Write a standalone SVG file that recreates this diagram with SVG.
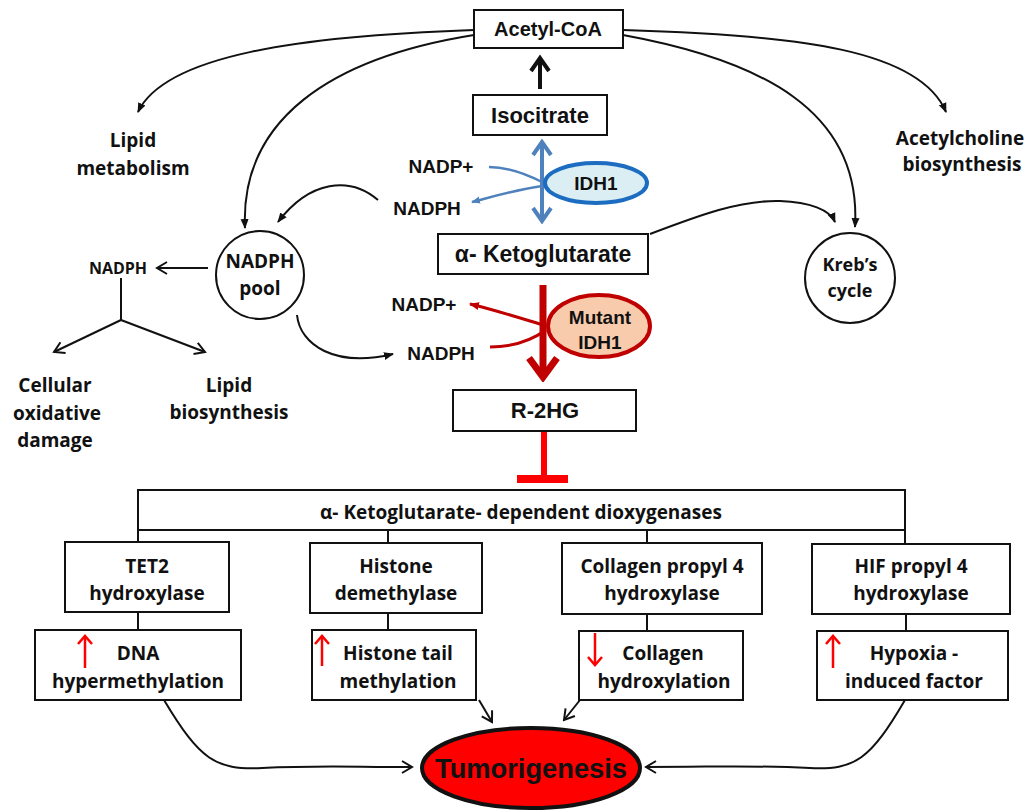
<svg xmlns="http://www.w3.org/2000/svg" width="1028" height="811" viewBox="0 0 1028 811">
<style>
.box{fill:#fff;stroke:#111;stroke-width:2}
.ar{font-family:"Liberation Sans",Arial,sans-serif;font-weight:bold;fill:#111;text-anchor:middle}
.ca{font-family:"Open Sans",Lato,sans-serif;font-weight:bold;fill:#111;text-anchor:middle}
.ln{fill:none;stroke:#111;stroke-width:2}
.bl{fill:none;stroke:#4f81bd;stroke-width:2.5}
.rd{fill:none;stroke:#c00000;stroke-width:3}
.up{fill:none;stroke:#ff0000;stroke-width:2.5}
</style>
<defs>
<marker id="tri" viewBox="0 0 10 10" refX="9" refY="5" markerWidth="10" markerHeight="10" markerUnits="userSpaceOnUse" orient="auto"><path d="M0,1 L10,5 L0,9 z" fill="#111"/></marker>
<marker id="chev" viewBox="0 0 14 14" refX="12" refY="7" markerWidth="14" markerHeight="14" markerUnits="userSpaceOnUse" orient="auto"><path d="M2,1 L12,7 L2,13" fill="none" stroke="#111" stroke-width="2"/></marker>
<marker id="chevK" viewBox="0 0 20 24" refX="16" refY="12" markerWidth="20" markerHeight="24" markerUnits="userSpaceOnUse" orient="auto"><path d="M3,3 L16,12 L3,21" fill="none" stroke="#111" stroke-width="4"/></marker>
<marker id="chevB" viewBox="0 0 18 22" refX="15" refY="11" markerWidth="18" markerHeight="22" markerUnits="userSpaceOnUse" orient="auto-start-reverse"><path d="M2,2 L15,11 L2,20" fill="none" stroke="#4f81bd" stroke-width="4"/></marker>
<marker id="triB" viewBox="0 0 10 10" refX="9" refY="5" markerWidth="9" markerHeight="9" markerUnits="userSpaceOnUse" orient="auto"><path d="M0,1 L10,5 L0,9 z" fill="#4f81bd"/></marker>
<marker id="chevR" viewBox="0 0 28 34" refX="23" refY="17" markerWidth="28" markerHeight="34" markerUnits="userSpaceOnUse" orient="auto"><path d="M4,3 L23,17 L4,31" fill="none" stroke="#c00000" stroke-width="7"/></marker>
<marker id="triR" viewBox="0 0 10 10" refX="9" refY="5" markerWidth="10" markerHeight="10" markerUnits="userSpaceOnUse" orient="auto"><path d="M0,1 L10,5 L0,9 z" fill="#c00000"/></marker>
<marker id="up" viewBox="0 0 12 16" refX="10" refY="8" markerWidth="12" markerHeight="16" markerUnits="userSpaceOnUse" orient="auto"><path d="M2,1 L10,8 L2,15" fill="none" stroke="#ff0000" stroke-width="2.5"/></marker>
</defs>

<g id="connectors">
<path class="ln" d="M474,30 C 300,36 165,55 138,112" marker-end="url(#tri)"/>
<path class="ln" d="M474,35 C 330,58 240,120 245,228" marker-end="url(#tri)"/>
<path class="ln" d="M623,30 C 800,35 920,50 946,112" marker-end="url(#tri)"/>
<path class="ln" d="M623,35 C 760,60 862,110 855,227" marker-end="url(#tri)"/>
<line x1="540" y1="89" x2="540" y2="58" stroke="#111" stroke-width="4" marker-end="url(#chevK)"/>
<line x1="542" y1="142" x2="542" y2="221" stroke="#4f81bd" stroke-width="4" marker-start="url(#chevB)" marker-end="url(#chevB)"/>
<path class="bl" d="M489,167 C 510,167 528,175 542,182"/>
<path class="bl" d="M542,186 C 515,190 495,196 472,202" marker-end="url(#triB)"/>
<path class="ln" d="M378,200 C 350,176 310,180 278,222" marker-end="url(#tri)"/>
<path class="ln" d="M650,234 C 700,215 740,200 780,201 C 810,202 830,210 835,222" marker-end="url(#tri)"/>
<line class="ln" x1="208" y1="268" x2="157" y2="268" marker-end="url(#chev)"/>
<polyline class="ln" points="121,278 121,320"/>
<line class="ln" x1="121" y1="320" x2="54" y2="352" marker-end="url(#chev)"/>
<line class="ln" x1="121" y1="320" x2="205" y2="352" marker-end="url(#chev)"/>
<path class="ln" d="M297,315 C 300,345 335,368 393,354" marker-end="url(#tri)"/>
<line x1="543" y1="285" x2="543" y2="377" stroke="#c00000" stroke-width="7" marker-end="url(#chevR)"/>
<path class="rd" d="M543,325 C 520,318 495,310 470,304" marker-end="url(#triR)"/>
<path class="rd" d="M490,347 C 515,347 532,340 546,330"/>
<line x1="544" y1="431" x2="544" y2="476" stroke="#ff0000" stroke-width="6"/>
<rect x="517" y="475" width="51" height="8" fill="#ff0000"/>
<line class="ln" x1="138" y1="530" x2="138" y2="542"/>
<line class="ln" x1="388" y1="530" x2="388" y2="543"/>
<line class="ln" x1="647" y1="530" x2="647" y2="543"/>
<line class="ln" x1="905" y1="530" x2="905" y2="544"/>
<line class="ln" x1="138" y1="612" x2="138" y2="630"/>
<line class="ln" x1="388" y1="613" x2="388" y2="630"/>
<line class="ln" x1="647" y1="614" x2="647" y2="631"/>
<line class="ln" x1="906" y1="614" x2="906" y2="631"/>
<path class="ln" d="M164,700 C 200,760 215,770 262,768 C 320,765 350,767 412,767" stroke-width="2.5" marker-end="url(#chev)"/>
<path class="ln" d="M905,700 C 870,760 855,770 810,768 C 750,765 720,767 646,767" stroke-width="2.5" marker-end="url(#chev)"/>
<line class="ln" x1="479" y1="700" x2="492" y2="722" stroke-width="2.5" marker-end="url(#chev)"/>
<line class="ln" x1="580" y1="700" x2="564" y2="720" stroke-width="2.5" marker-end="url(#chev)"/>
</g>

<g id="acetylcoa"><rect class="box" x="474" y="10" width="149" height="38"/><text class="ar" x="548" y="36" font-size="20">Acetyl-CoA</text></g>
<g id="isocitrate"><rect class="box" x="473" y="95" width="134" height="40"/><text class="ar" x="540" y="123" font-size="22">Isocitrate</text></g>
<g id="idh1"><ellipse cx="596" cy="183" rx="51" ry="20" fill="#daeef3" stroke="#1c6dc2" stroke-width="4"/><text class="ar" x="596" y="190" font-size="19">IDH1</text></g>
<g id="nadp-blue"><text class="ar" x="441" y="173" font-size="19">NADP+</text></g>
<g id="nadph-blue"><text class="ar" x="427" y="215" font-size="19">NADPH</text></g>
<g id="akg"><rect class="box" x="438" y="234" width="210" height="40"/><text class="ar" x="543" y="262" font-size="23">α- Ketoglutarate</text></g>
<g id="mutant-idh1"><ellipse cx="599" cy="326" rx="51" ry="31" fill="#f8cbad" stroke="#c00000" stroke-width="4"/><text class="ar" x="600" y="324" font-size="19">Mutant</text><text class="ar" x="600" y="349" font-size="19">IDH1</text></g>
<g id="nadp-red"><text class="ar" x="424" y="311" font-size="19">NADP+</text></g>
<g id="nadph-red"><text class="ar" x="441" y="360" font-size="19">NADPH</text></g>
<g id="r2hg"><rect class="box" x="453" y="390" width="183" height="41"/><text class="ar" x="545" y="418" font-size="22">R-2HG</text></g>
<g id="lipid-metabolism"><text class="ca" x="133" y="147" font-size="19">Lipid</text><text class="ca" x="133" y="175" font-size="19">metabolism</text></g>
<g id="acetylcholine"><text class="ca" x="960" y="145" font-size="19">Acetylcholine</text><text class="ca" x="962" y="171" font-size="19">biosynthesis</text></g>
<g id="nadph-pool"><circle cx="260" cy="275" r="44" fill="#fff" stroke="#111" stroke-width="2"/><text class="ca" x="260" y="268" font-size="19">NADPH</text><text class="ca" x="260" y="295" font-size="19">pool</text></g>
<g id="krebs"><circle cx="850" cy="278" r="45" fill="#fff" stroke="#111" stroke-width="2"/><text class="ca" x="850" y="271" font-size="18">Kreb’s</text><text class="ca" x="850" y="297" font-size="18">cycle</text></g>
<g id="nadph-small"><text class="ca" x="118" y="274" font-size="16">NADPH</text></g>
<g id="cellular"><text class="ca" x="55" y="392" font-size="19">Cellular</text><text class="ca" x="57" y="420" font-size="19">oxidative</text><text class="ca" x="55" y="447" font-size="19">damage</text></g>
<g id="lipid-biosynthesis"><text class="ca" x="229" y="392" font-size="19">Lipid</text><text class="ca" x="229" y="419" font-size="19">biosynthesis</text></g>
<g id="dioxygenases"><rect class="box" x="138" y="490" width="767" height="40"/><text class="ca" x="521" y="519" font-size="19">α- Ketoglutarate- dependent dioxygenases</text></g>
<g id="tet2"><rect class="box" x="65" y="542" width="164" height="70"/><text class="ca" x="147" y="573" font-size="19">TET2</text><text class="ca" x="147" y="600" font-size="19">hydroxylase</text></g>
<g id="histone-demethylase"><rect class="box" x="310" y="543" width="172" height="70"/><text class="ca" x="396" y="573" font-size="19">Histone</text><text class="ca" x="396" y="600" font-size="19">demethylase</text></g>
<g id="collagen-p4h"><rect class="box" x="562" y="543" width="200" height="71"/><text class="ca" x="662" y="573" font-size="19">Collagen propyl 4</text><text class="ca" x="662" y="600" font-size="19">hydroxylase</text></g>
<g id="hif-p4h"><rect class="box" x="812" y="544" width="198" height="70"/><text class="ca" x="911" y="573" font-size="19">HIF propyl 4</text><text class="ca" x="911" y="600" font-size="19">hydroxylase</text></g>
<g id="dna"><rect class="box" x="35" y="630" width="206" height="70"/><line class="up" x1="85" y1="668" x2="85" y2="636" marker-end="url(#up)"/><text class="ca" x="138" y="660" font-size="19">DNA</text><text class="ca" x="138" y="688" font-size="19">hypermethylation</text></g>
<g id="histone-tail"><rect class="box" x="312" y="630" width="164" height="70"/><line class="up" x1="322" y1="666" x2="322" y2="636" marker-end="url(#up)"/><text class="ca" x="398" y="660" font-size="19">Histone tail</text><text class="ca" x="398" y="688" font-size="19">methylation</text></g>
<g id="collagen-hydroxylation"><rect class="box" x="579" y="631" width="164" height="69"/><line class="up" x1="595" y1="633" x2="595" y2="665" marker-end="url(#up)"/><text class="ca" x="663" y="660" font-size="19">Collagen</text><text class="ca" x="664" y="688" font-size="19">hydroxylation</text></g>
<g id="hypoxia"><rect class="box" x="817" y="631" width="191" height="69"/><line class="up" x1="833" y1="668" x2="833" y2="636" marker-end="url(#up)"/><text class="ca" x="914" y="660" font-size="19">Hypoxia -</text><text class="ca" x="914" y="688" font-size="19">induced factor</text></g>
<g id="tumorigenesis"><ellipse cx="531" cy="768" rx="109" ry="40" fill="#ff0000" stroke="#111" stroke-width="4"/><text class="ar" x="531" y="778" font-size="28" textLength="192" lengthAdjust="spacingAndGlyphs">Tumorigenesis</text></g>
</svg>
